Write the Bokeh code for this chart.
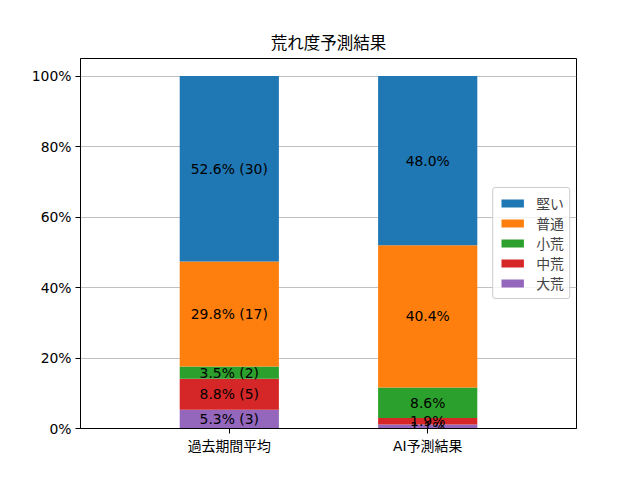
from bokeh.plotting import figure
from bokeh.models import Range1d, FixedTicker, Legend, LegendItem, ColumnDataSource, LabelSet
from bokeh.core.properties import value
from bokeh.embed import file_html
from bokeh.resources import INLINE

FONT = "DejaVu Sans, Noto Sans CJK JP"
CJK = "Noto Sans CJK JP"
LATIN = "DejaVu Sans"

categories = ["過去期間平均", "AI予測結果"]
levels = ["大荒", "中荒", "小荒", "普通", "堅い"]          # bottom -> top
colors = ["#9467bd", "#d62728", "#2ca02c", "#ff7f0e", "#1f77b4"]
past_pct = [5.3, 8.8, 3.5, 29.8, 52.6]
past_count = [3, 5, 2, 17, 30]
ai_pct = [1.1, 1.9, 8.6, 40.4, 48.0]
y_ticks = [0, 20, 40, 60, 80, 100]

p = figure(frame_width=496, frame_height=370, output_backend="svg", toolbar_location=None,
           x_range=Range1d(-0.75, 1.75), y_range=Range1d(0, 105),
           min_border_left=80, min_border_right=64, min_border_top=58, min_border_bottom=52,
           title="荒れ度予測結果")
p.background_fill_color = "white"
p.border_fill_color = "white"
p.outline_line_color = "black"
p.outline_line_alpha = 1
p.title.align = "center"
p.title.text_font = CJK
p.title.text_font_size = "16.5px"
p.title.text_font_style = "normal"
p.title.text_color = "black"

xs = [0, 1]
renderers = {}
bottoms = [0.0, 0.0]
label_x, label_y, label_t = [], [], []
for i, lvl in enumerate(levels):
    tops = [bottoms[0] + past_pct[i], bottoms[1] + ai_pct[i]]
    src = ColumnDataSource(dict(x=xs, bottom=list(bottoms), top=tops))
    r = p.vbar(x="x", width=0.5, bottom="bottom", top="top", source=src,
               fill_color=colors[i], line_color=None)
    renderers[lvl] = r
    label_x += [0, 1]
    label_y += [(bottoms[0] + tops[0]) / 2, (bottoms[1] + tops[1]) / 2]
    label_t += ["%.1f%% (%d)" % (past_pct[i], past_count[i]), "%.1f%%" % ai_pct[i]]
    bottoms = tops

lsrc = ColumnDataSource(dict(x=label_x, y=label_y, t=label_t))
labels = LabelSet(x="x", y="y", text="t", source=lsrc, text_align="center",
                  text_baseline="middle", text_font=value(LATIN),
                  text_font_size=value("13.9px"), text_color=value("black"))
p.add_layout(labels)

items = [LegendItem(label=lvl, renderers=[renderers[lvl]]) for lvl in reversed(levels)]
legend = Legend(items=items, location="center_right")
legend.label_text_font = CJK
legend.label_text_font_size = "13.9px"
legend.glyph_width = 28
legend.glyph_height = 10
legend.label_height = 17
legend.label_standoff = 10
legend.spacing = 0
legend.padding = 5
legend.margin = 6
legend.border_line_color = "#cccccc"
legend.border_line_alpha = 1
legend.background_fill_alpha = 0.8
legend.border_radius = 3
p.add_layout(legend)

p.xgrid.visible = False
p.ygrid.grid_line_color = "#b0b0b0"
p.ygrid.grid_line_width = 0.8
p.ygrid.ticker = FixedTicker(ticks=y_ticks)

p.xaxis.ticker = FixedTicker(ticks=xs)
p.xaxis.major_label_overrides = {0: categories[0], 1: categories[1]}
p.yaxis.ticker = FixedTicker(ticks=y_ticks)
p.yaxis.major_label_overrides = {t: "%d%%" % t for t in y_ticks}
for ax in (p.xaxis, p.yaxis):
    ax.axis_line_color = "black"
    ax.major_tick_line_color = "black"
    ax.major_tick_out = 5
    ax.major_tick_in = 0
    ax.minor_tick_line_color = None
    ax.major_label_text_font = FONT
    ax.major_label_text_font_size = "13.9px"
    ax.major_label_text_color = "black"
    ax.major_label_standoff = 4

open("out.html", "w").write(file_html(p, INLINE))
